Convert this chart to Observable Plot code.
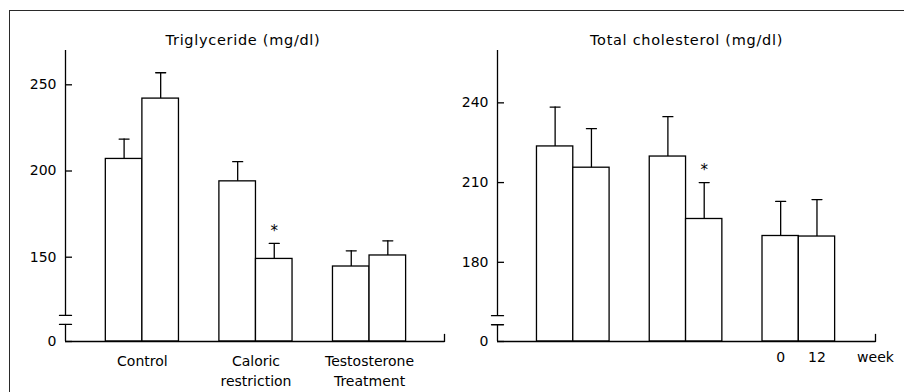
<!DOCTYPE html>
<html><head><meta charset="utf-8">
<script src="https://cdn.jsdelivr.net/npm/d3@7"></script>
<script src="https://cdn.jsdelivr.net/npm/@observablehq/plot@0.6"></script>
<style>
body{margin:0;background:#fff;}
#wrap{position:relative;width:904px;height:392px;overflow:hidden;font-family:"DejaVu Sans",sans-serif;}
#wrap svg{position:absolute;top:0;}
#border{position:absolute;left:9px;top:10px;width:900px;height:390px;border-left:1.5px solid #2a2a2a;border-top:1.5px solid #2a2a2a;}
.ttl{letter-spacing:0.7px;}
</style></head><body>
<div id="wrap"><div id="border"></div></div>
<script>
// ---- data ----
const tgGroups = ["Control", "Caloric\nrestriction", "Testosterone\nTreatment"];
const weeks = ["0", "12"];
const tgWeek0 = [207, 194, 144.6];
const tgWeek12 = [242, 149, 151];
const tgSE0 = [11.5, 11.4, 9.1];
const tgSE12 = [15, 9, 8.5];
const tgTicks = [150, 200, 250];

const tcWeek0 = [223.6, 219.8, 189.9];
const tcWeek12 = [215.6, 196.3, 189.7];
const tcSE0 = [14.8, 15, 13];
const tcSE12 = [14.7, 13.7, 13.9];
const tcTicks = [180, 210, 240];

const significant12 = [false, true, false]; // * at week 12

// ---- helpers ----
const barW = 0.322;
const hline = {draw(ctx, l) { ctx.moveTo(0, 0); ctx.lineTo(0, -l); }};

function rowsOf(w0, w12, se0, se12) {
  const rows = [];
  for (let i = 0; i < w0.length; ++i) {
    rows.push({g: i, w: 0, mean: w0[i], se: se0[i], sig: false});
    rows.push({g: i, w: 1, mean: w12[i], se: se12[i], sig: significant12[i]});
  }
  return rows;
}
const center = d => d.g - barW / 2 + d.w * barW;

function panel({rows, title, titleDx, ticks, yBase, yTop, breaks, xDomain, marginLeft, marginRight, groupLabels, weekLabels}) {
  const marks = [
    Plot.rect(rows, {
      x1: d => d.g - barW + d.w * barW, x2: d => d.g + d.w * barW,
      y1: () => yBase, y2: "mean", fill: "white", stroke: "black", strokeWidth: 1.3
    }),
    Plot.ruleX(rows, {x: center, y1: "mean", y2: d => d.mean + d.se, stroke: "black", strokeWidth: 1.3}),
    Plot.vector(rows, {x: center, y: d => d.mean + d.se, length: 10, rotate: 90, anchor: "middle", shape: hline, stroke: "black", strokeWidth: 1.3}),
    Plot.text(rows.filter(d => d.sig), {x: center, y: d => d.mean + d.se, text: () => "*", dy: -12, fontSize: 15, fill: "black"}),
    // axis line with break
    Plot.ruleX([xDomain[0]], {y1: () => yBase, y2: () => breaks[0], stroke: "black", strokeWidth: 1.3}),
    Plot.ruleX([xDomain[0]], {y1: () => breaks[1], y2: () => yTop, stroke: "black", strokeWidth: 1.3}),
    Plot.vector(breaks, {x: () => xDomain[0], y: d => d, length: 12, rotate: 90, anchor: "middle", shape: hline, stroke: "black", strokeWidth: 1.3}),
    Plot.ruleY([yBase], {stroke: "black", strokeWidth: 1.3}),
    Plot.vector([xDomain[1]], {x: d => d, y: () => yBase, length: 7, anchor: "start", shape: hline, stroke: "black", strokeWidth: 1.3}),
    Plot.axisY([yBase, ...ticks], {tickSize: -7, tickPadding: 16, tickFormat: d => d === yBase ? "0" : String(d), fontSize: 14, stroke: "black", fill: "black", strokeWidth: 1.3, label: null}),
    Plot.text([title], {frameAnchor: "top", dy: -16, dx: titleDx, fontSize: 14.5, fill: "black", className: "ttl"})
  ];
  if (groupLabels) {
    const gl = groupLabels.map((t, i) => ({t, i}));
    marks.push(Plot.text(gl.filter(d => !d.t.includes("\n")), {x: "i", y: () => yBase, text: "t", lineAnchor: "top", dy: 15, fontSize: 14, fill: "black"}));
    marks.push(Plot.text(gl.filter(d => d.t.includes("\n")), {x: "i", y: () => yBase, text: "t", lineAnchor: "top", dy: 10, lineHeight: 1.43, fontSize: 14, fill: "black"}));
  }
  if (weekLabels) {
    const last = rows.filter(d => d.g === 2);
    marks.push(Plot.text(last, {x: center, y: () => yBase, text: d => weekLabels[d.w], lineAnchor: "top", dy: 11, fontSize: 14, fill: "black"}));
    marks.push(Plot.text(["week"], {x: () => xDomain[1], y: () => yBase, text: d => d, lineAnchor: "top", dy: 11, fontSize: 14, fill: "black"}));
  }
  return Plot.plot({
    width: 452, height: 392,
    marginTop: 50, marginBottom: 51, marginLeft, marginRight,
    style: {fontFamily: "DejaVu Sans", fontSize: "14px", background: "transparent", color: "black"},
    x: {type: "linear", domain: xDomain, axis: null},
    y: {type: "linear", domain: [yBase, yTop], axis: null, label: null},
    marks
  });
}

const left = panel({
  rows: rowsOf(tgWeek0, tgWeek12, tgSE0, tgSE12),
  title: "Triglyceride (mg/dl)", titleDx: -12,
  ticks: tgTicks, yBase: 101.1, yTop: 269.9, breaks: [111, 116.2],
  xDomain: [-0.677, 2.66], marginLeft: 65, marginRight: 8,
  groupLabels: tgGroups
});
const right = panel({
  rows: rowsOf(tcWeek0, tcWeek12, tcSE0, tcSE12),
  title: "Total cholesterol (mg/dl)", titleDx: 0,
  ticks: tcTicks, yBase: 150.2, yTop: 259.7, breaks: [156.5, 159.9],
  xDomain: [-0.672, 2.68], marginLeft: 45, marginRight: 29,
  weekLabels: weeks
});
left.style.left = "0px";
right.style.left = "452px";
const wrap = document.getElementById("wrap");
wrap.appendChild(left);
wrap.appendChild(right);
</script>
</body></html>
